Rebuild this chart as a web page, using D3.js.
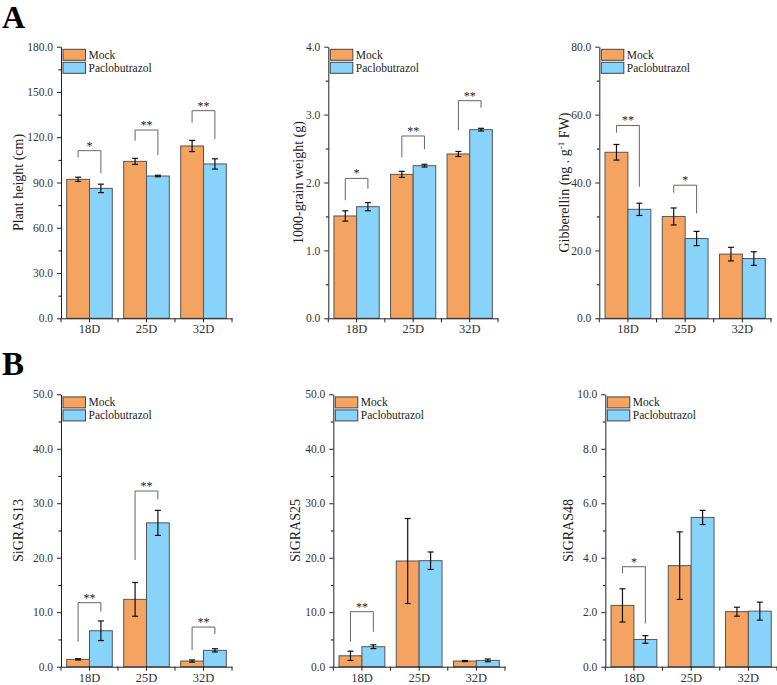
<!DOCTYPE html>
<html>
<head>
<meta charset="utf-8">
<script src="https://cdn.jsdelivr.net/npm/d3@7"></script>
<style>
  html, body { margin: 0; padding: 0; background: #fff; }
  svg text { font-family: "Liberation Serif", "Times New Roman", serif; }
</style>
</head>
<body>
<svg id="chart" width="777" height="685"></svg>
<script>
// ---------- DATA ----------
const categories = ["18D", "25D", "32D"];
const seriesNames = ["Mock", "Paclobutrazol"];

// Panel A1: Plant height (cm)
const heightMock = [92.1, 104.0, 114.2];
const heightMockErr = [1.4, 2.0, 3.7];
const heightPaclo = [86.1, 94.3, 102.3];
const heightPacloErr = [2.8, 0.5, 3.4];
const heightTicks = [0, 30, 60, 90, 120, 150, 180];
// [category index, bracket top, left leg end, right leg end, label]
const heightSig = [[0, 111.1, 106.7, 96.1, "*"], [1, 124.8, 117.7, 108.2, "**"], [2, 137.6, 129.6, 118.8, "**"]];

// Panel A2: 1000-grain weight (g)
const grainMock = [1.507, 2.12, 2.42];
const grainMockErr = [0.076, 0.044, 0.037];
const grainPaclo = [1.644, 2.248, 2.778];
const grainPacloErr = [0.06, 0.02, 0.02];
const grainTicks = [0, 1, 2, 3, 4];
const grainSig = [[0, 2.06, 1.74, 1.91, "*"], [1, 2.685, 2.37, 2.49, "**"], [2, 3.205, 2.77, 3.10, "**"]];

// Panel A3: Gibberellin
const gaMock = [48.9, 30.0, 18.9];
const gaMockErr = [2.3, 2.5, 2.0];
const gaPaclo = [32.1, 23.5, 17.6];
const gaPacloErr = [1.8, 2.1, 2.0];
const gaTicks = [0, 20, 40, 60, 80];
const gaSig = [[0, 56.8, 54.7, 38.8, "**"], [1, 39.2, 37.0, 30.9, "*"]];

// Panel B1: SiGRAS13
const g13Mock = [1.35, 12.36, 1.04];
const g13MockErr = [0.12, 3.1, 0.2];
const g13Paclo = [6.6, 26.4, 3.0];
const g13PacloErr = [1.8, 2.3, 0.3];
const g13Ticks = [0, 10, 20, 30, 40, 50];
const g13Sig = [[0, 11.75, 4.6, 10.1, "**"], [1, 32.25, 19.6, 30.7, "**"], [2, 7.28, 3.06, 6.0, "**"]];

// Panel B2: SiGRAS25
const g25Mock = [2.0, 19.4, 1.04];
const g25MockErr = [0.85, 7.8, 0.1];
const g25Paclo = [3.67, 19.46, 1.16];
const g25PacloErr = [0.35, 1.6, 0.25];
const g25Ticks = [0, 10, 20, 30, 40, 50];
const g25Sig = [[0, 10.1, 4.6, 6.4, "**"]];

// Panel B3: SiGRAS48
const g48Mock = [2.25, 3.71, 2.02];
const g48MockErr = [0.61, 1.24, 0.165];
const g48Paclo = [1.0, 5.48, 2.04];
const g48PacloErr = [0.14, 0.26, 0.33];
const g48Ticks = [0, 2, 4, 6, 8, 10];
const g48Sig = [[0, 3.67, 3.43, 1.59, "*"]];

// ---------- LAYOUT ----------
const colors = ["#F4A460", "#87D3F9"];
const svg = d3.select("#chart");

const panels = [
  { title: "Plant height (cm)", mock: heightMock, mockErr: heightMockErr, paclo: heightPaclo, pacloErr: heightPacloErr, ticks: heightTicks, sig: heightSig,
    x0: 61, x1: 232, yTop: 46.7, yBot: 318.3, titleX: 18 },
  { title: "1000-grain weight (g)", mock: grainMock, mockErr: grainMockErr, paclo: grainPaclo, pacloErr: grainPacloErr, ticks: grainTicks, sig: grainSig,
    x0: 328.3, x1: 498, yTop: 46.7, yBot: 318.3, titleX: 298 },
  { title: "GA", mock: gaMock, mockErr: gaMockErr, paclo: gaPaclo, pacloErr: gaPacloErr, ticks: gaTicks, sig: gaSig,
    x0: 599.3, x1: 771, yTop: 46.7, yBot: 318.3, titleX: 564 },
  { title: "SiGRAS13", mock: g13Mock, mockErr: g13MockErr, paclo: g13Paclo, pacloErr: g13PacloErr, ticks: g13Ticks, sig: g13Sig,
    x0: 61, x1: 232, yTop: 394.3, yBot: 666.7, titleX: 18 },
  { title: "SiGRAS25", mock: g25Mock, mockErr: g25MockErr, paclo: g25Paclo, pacloErr: g25PacloErr, ticks: g25Ticks, sig: g25Sig,
    x0: 333.3, x1: 505, yTop: 394.3, yBot: 666.7, titleX: 295.5 },
  { title: "SiGRAS48", mock: g48Mock, mockErr: g48MockErr, paclo: g48Paclo, pacloErr: g48PacloErr, ticks: g48Ticks, sig: g48Sig,
    x0: 605.3, x1: 777, yTop: 394.3, yBot: 666.7, titleX: 568 }
];

// Panel letters
svg.append("text").attr("x", 2).attr("y", 28).attr("font-size", 32).attr("font-weight", "bold").attr("fill", "#000").text("A");
svg.append("text").attr("x", 2).attr("y", 375).attr("font-size", 33).attr("font-weight", "bold").attr("fill", "#000").text("B");

panels.forEach(p => {
  const g = svg.append("g");
  const x = d3.scaleBand().domain(categories).range([p.x0, p.x1]).padding(0);
  const x1 = d3.scaleBand().domain(seriesNames).range([0, x.bandwidth() * 0.8]).padding(0);
  const off = x.bandwidth() * 0.1;
  const ticks = p.ticks;
  const yMax = ticks[ticks.length - 1];
  const y = d3.scaleLinear().domain([0, yMax]).range([p.yBot, p.yTop]);
  const step = ticks[1] - ticks[0];
  const minor = d3.range(step / 2, yMax, step);

  const rows = categories.map((c, i) => ({
    cat: c, i,
    vals: [
      { s: seriesNames[0], v: p.mock[i], e: p.mockErr[i], c: colors[0] },
      { s: seriesNames[1], v: p.paclo[i], e: p.pacloErr[i], c: colors[1] }
    ]
  }));

  // bars
  const grp = g.selectAll("g.cat").data(rows).join("g")
    .attr("transform", d => `translate(${x(d.cat) + off},0)`);
  grp.selectAll("rect").data(d => d.vals).join("rect")
    .attr("x", d => x1(d.s))
    .attr("y", d => y(d.v))
    .attr("width", x1.bandwidth())
    .attr("height", d => y(0) - y(d.v))
    .attr("fill", d => d.c)
    .attr("stroke", "#555")
    .attr("stroke-width", 1);

  // error bars
  const eb = grp.selectAll("g.err").data(d => d.vals).join("g").attr("class", "err")
    .attr("transform", d => `translate(${x1(d.s) + x1.bandwidth() / 2},0)`);
  eb.append("line").attr("x1", 0).attr("x2", 0)
    .attr("y1", d => y(d.v + d.e)).attr("y2", d => y(d.v - d.e))
    .attr("stroke", "#111").attr("stroke-width", 1.2);
  eb.append("line").attr("x1", -3).attr("x2", 3)
    .attr("y1", d => y(d.v + d.e)).attr("y2", d => y(d.v + d.e))
    .attr("stroke", "#111").attr("stroke-width", 1.2);
  eb.append("line").attr("x1", -3).attr("x2", 3)
    .attr("y1", d => y(d.v - d.e)).attr("y2", d => y(d.v - d.e))
    .attr("stroke", "#111").attr("stroke-width", 1.2);

  // significance brackets
  p.sig.forEach(s => {
    const cat = categories[s[0]];
    const lx = x(cat) + off + x1(seriesNames[0]) + x1.bandwidth() / 2;
    const rx = x(cat) + off + x1(seriesNames[1]) + x1.bandwidth() / 2;
    g.append("path")
      .attr("d", `M${lx},${y(s[2])}V${y(s[1])}H${rx}V${y(s[3])}`)
      .attr("fill", "none").attr("stroke", "#666").attr("stroke-width", 1);
    g.append("text").attr("x", (lx + rx) / 2).attr("y", y(s[1]) - 1)
      .attr("text-anchor", "middle").attr("font-size", 12).attr("fill", "#222").text(s[4]);
  });

  // y axis
  const yAxis = g.append("g").attr("transform", `translate(${p.x0},0)`)
    .call(d3.axisLeft(y).tickValues(ticks).tickFormat(d3.format(".1f")).tickSize(4).tickSizeOuter(0).tickPadding(4));
  g.append("g").attr("transform", `translate(${p.x0},0)`)
    .call(d3.axisLeft(y).tickValues(minor).tickFormat("").tickSize(2.5).tickSizeOuter(0))
    .call(a => a.select(".domain").remove());

  // x axis
  const xAxis = g.append("g").attr("transform", `translate(0,${p.yBot})`)
    .call(d3.axisBottom(x).tickSize(4).tickSizeOuter(0).tickPadding(2));
  g.append("g").attr("transform", `translate(0,${p.yBot})`)
    .selectAll("line").data(d3.range(categories.length + 1)).join("line")
    .attr("x1", i => p.x0 + i * x.step()).attr("x2", i => p.x0 + i * x.step())
    .attr("y1", 0).attr("y2", 4).attr("stroke", "#222");

  [yAxis, xAxis].forEach(a => {
    a.selectAll("path, line").attr("stroke", "#222").attr("stroke-width", 1);
    a.selectAll("text").attr("font-family", "Liberation Serif, serif").attr("fill", "#333");
  });
  yAxis.selectAll("text").attr("font-size", 11.5);
  xAxis.selectAll("text").attr("font-size", 12.5);

  // y title
  const t = g.append("text")
    .attr("transform", `translate(${p.titleX + 4.8},${(p.yTop + p.yBot) / 2}) rotate(-90)`)
    .attr("text-anchor", "middle").attr("font-size", 14).attr("fill", "#222");
  if (p.title === "GA") {
    t.append("tspan").text("Gibberellin (ng . g");
    t.append("tspan").attr("font-size", 9).attr("dy", -5).text("-1");
    t.append("tspan").attr("dy", 5).text(" FW)");
  } else {
    t.text(p.title);
  }

  // legend
  const lg = g.append("g").attr("transform", `translate(${p.x0 + 2},${p.yTop + 2.6})`);
  seriesNames.forEach((n, i) => {
    lg.append("rect").attr("x", 0).attr("y", i * 13).attr("width", 22.5).attr("height", 11)
      .attr("fill", colors[i]).attr("stroke", "#444").attr("stroke-width", 1);
    lg.append("text").attr("x", 25.5).attr("y", i * 13 + 9.5).attr("font-size", 11.5).attr("fill", "#222").text(n);
  });
});
</script>
</body>
</html>
